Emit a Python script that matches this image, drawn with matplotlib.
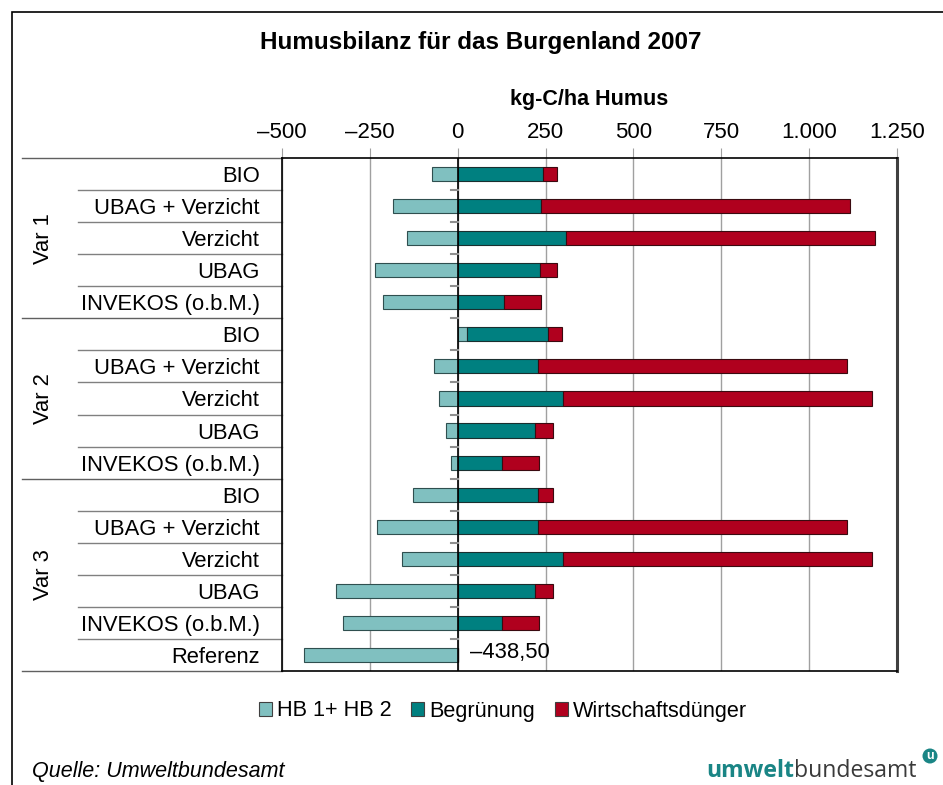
#!/usr/bin/env python3
import numpy as np
import matplotlib
matplotlib.use('Agg')
import matplotlib.pyplot as plt
from matplotlib.patches import Rectangle, Patch
import matplotlib.transforms as mtransforms

plt.rcParams['font.family'] = ['Liberation Sans', 'DejaVu Sans']

# data, top to bottom
groups = ['Var 1', 'Var 2', 'Var 3']
group_sizes = [5, 5, 6]
rows = ['BIO', 'UBAG + Verzicht', 'Verzicht', 'UBAG', 'INVEKOS (o.b.M.)',
        'BIO', 'UBAG + Verzicht', 'Verzicht', 'UBAG', 'INVEKOS (o.b.M.)',
        'BIO', 'UBAG + Verzicht', 'Verzicht', 'UBAG', 'INVEKOS (o.b.M.)',
        'Referenz']
hb = [-74, -185, -143, -234, -213,
      25, -68, -54, -32, -20,
      -126, -231, -159, -345, -326,
      -438.5]
begruenung = [242, 236, 307, 234, 132,
              231, 228, 300, 220, 126,
              228, 228, 300, 220, 126,
              0]
duenger = [40, 880, 879, 48, 104,
           40, 879, 879, 51, 105,
           43, 879, 879, 51, 105,
           0]
xticks = [-500, -250, 0, 250, 500, 750, 1000, 1250]
xticklabels = ['–500', '–250', '0', '250', '500', '750', '1.000', '1.250']
series = ['HB 1+ HB 2', 'Begrünung', 'Wirtschaftsdünger']
colors = ['#80c0c0', '#008080', '#b0001e']

W, H = 943, 785
fig = plt.figure(figsize=(W / 100, H / 100), dpi=100)
ax = fig.add_axes([282 / W, 1 - 671 / H, (897 - 282) / W, (671 - 158) / H])

y = np.arange(len(rows))
hb = np.array(hb, dtype=float)
begruenung = np.array(begruenung, dtype=float)
duenger = np.array(duenger, dtype=float)
b_left = np.maximum(hb, 0)
d_left = b_left + begruenung

bh = 0.44
ax.barh(y, hb, height=bh, color=colors[0], edgecolor='#2f4f4f', linewidth=0.8, zorder=3)
ax.barh(y, begruenung, left=b_left, height=bh, color=colors[1], edgecolor='#1a2f2f', linewidth=0.8, zorder=3)
ax.barh(y, duenger, left=d_left, height=bh, color=colors[2], edgecolor='#3a0a10', linewidth=0.8, zorder=3)

ax.set_xlim(-500, 1250)
ax.set_ylim(len(rows) - 0.5, -0.5)
ax.set_xticks(xticks)
ax.set_xticklabels(xticklabels)
ax.xaxis.tick_top()
ax.tick_params(axis='x', length=7, color='#a0a0a0', labelsize=16, pad=4)
ax.set_xlabel('kg-C/ha Humus', fontsize=15.5, fontweight='bold', labelpad=12)
ax.xaxis.set_label_position('top')
ax.grid(axis='x', color='#a0a0a0', linewidth=1, zorder=0)
ax.axvline(0, color='black', linewidth=1.2, zorder=4)

ax.set_yticks(y)
ax.set_yticklabels(rows, fontsize=15.8)
ax.tick_params(axis='y', length=0, pad=16)

for s in ['top', 'left', 'bottom']:
    ax.spines[s].set_color('black')
    ax.spines[s].set_linewidth(1.2)
ax.spines['right'].set_color('#404040')
ax.spines['right'].set_linewidth(2.2)

# small ticks on the zero line between rows
for b in y[:-1] + 0.5:
    ax.plot([-18, 0], [b, b], color='#909090', linewidth=1.5, zorder=4)

# category separators on the left
trans = mtransforms.blended_transform_factory(ax.transAxes, ax.transData)
bounds = np.cumsum([0] + group_sizes) - 0.5
for b in y[:-1] + 0.5:
    if b in bounds:
        continue
    ax.plot([-0.332, 0], [b, b], color='#808080', linewidth=1, transform=trans, clip_on=False)
for b in bounds:
    ax.plot([-0.423, 0], [b, b], color='#606060', linewidth=1, transform=trans, clip_on=False)
for g, lo, hi in zip(groups, bounds[:-1], bounds[1:]):
    ax.text(-0.387, (lo + hi) / 2, g, rotation=90, fontsize=15.8, ha='center', va='center',
            transform=trans)

# label for Referenz
ref = len(rows) - 1
ax.annotate(f'{hb[ref]:.2f}'.replace('.', ',').replace('-', '–'), xy=(0, ref),
            xytext=(9, 2), textcoords='offset points', fontsize=15.8, va='center', ha='left')

# title, legend, footer
fig.text(481 / W, 1 - 42 / H, 'Humusbilanz für das Burgenland 2007', fontsize=17.5,
         fontweight='bold', ha='center', va='center')
handles = [Patch(facecolor=c, edgecolor='#404040', linewidth=0.8) for c in colors]
fig.legend(handles, series, loc='center', bbox_to_anchor=(503 / W, 1 - 711 / H), ncol=3,
           frameon=False, fontsize=15.6, handlelength=0.6, handleheight=0.6,
           handletextpad=0.25, columnspacing=0.9)
fig.text(32 / W, 1 - 771 / H, 'Quelle: Umweltbundesamt', fontsize=15.5, style='italic',
         ha='left', va='center')
t1 = fig.text(706 / W, 1 - 771 / H, 'umwelt', fontsize=16.6, fontweight='bold',
              color='#1a8585', ha='left', va='center', family=['Open Sans', 'DejaVu Sans'])
fig.canvas.draw()
bb = t1.get_window_extent()
fig.text(bb.x1 / W, 1 - 771 / H, 'bundesamt', fontsize=16.6, color='#3a3a3a',
         ha='left', va='center', family=['Open Sans', 'DejaVu Sans'])
fig.text(930 / W, 1 - 756 / H, 'u', fontsize=9, fontweight='bold', color='white',
         ha='center', va='center',
         bbox=dict(boxstyle='circle,pad=0.12', facecolor='#1a8585', edgecolor='none'))

# outer frame (left and top)
fig.patches.append(Rectangle((12 / W, -0.1), 1.2, 1 - 12 / H + 0.1, transform=fig.transFigure,
                             fill=False, edgecolor='black', linewidth=1.2))

fig.savefig('out.png', dpi=100)
